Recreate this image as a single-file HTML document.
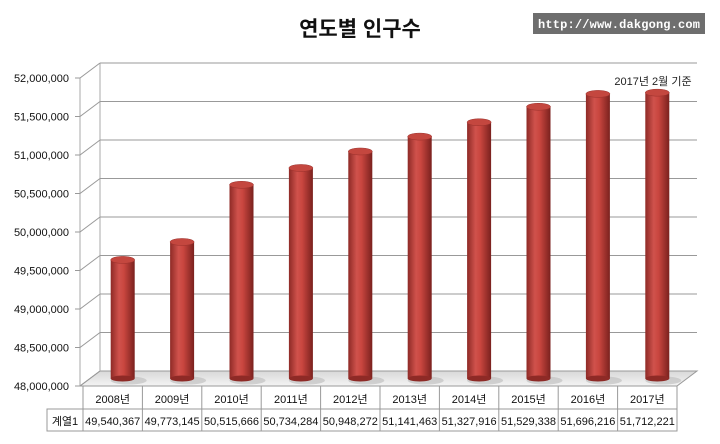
<!DOCTYPE html>
<html><head><meta charset="utf-8"><style>
body{margin:0;background:#fff;}
svg text{font-family:"Liberation Sans","Noto Sans CJK KR",sans-serif;}
svg text.mono{font-family:"Liberation Mono",monospace;}
</style></head><body>
<svg id="chart" width="720" height="439" viewBox="0 0 720 439" xmlns="http://www.w3.org/2000/svg">
<defs>
<linearGradient id="cyl" x1="0" x2="1" y1="0" y2="0">
<stop offset="0" stop-color="#8e2a26"/><stop offset="0.35" stop-color="#d0524c"/><stop offset="0.55" stop-color="#c9463f"/><stop offset="1" stop-color="#7a211e"/>
</linearGradient>
<linearGradient id="floorg" x1="0" x2="0" y1="0" y2="1"><stop offset="0" stop-color="#d8d8d8"/><stop offset="1" stop-color="#f4f4f4"/></linearGradient>
</defs>
<text x="360" y="36" text-anchor="middle" font-size="21" font-weight="bold" fill="#111">연도별 인구수</text>
<rect x="533" y="13" width="172" height="21" fill="#6e6e6e"/>
<text class="mono" x="619" y="28" text-anchor="middle" font-size="12" font-weight="bold" fill="#fff" textLength="162">http://www.dakgong.com</text>
<text x="653" y="85" text-anchor="middle" font-size="11" fill="#222">2017년 2월 기준</text>
<g id="axes"></g>
<g id="bars"></g>
<g id="table"></g>
</svg>
<script>
const years=["2008년","2009년","2010년","2011년","2012년","2013년","2014년","2015년","2016년","2017년"];
const values=[49540367,49773145,50515666,50734284,50948272,51141463,51327916,51529338,51696216,51712221];
const valueLabels=["49,540,367","49,773,145","50,515,666","50,734,284","50,948,272","51,141,463","51,327,916","51,529,338","51,696,216","51,712,221"];
const ticks=[48000000,48500000,49000000,49500000,50000000,50500000,51000000,51500000,52000000];
const tickLabels=["48,000,000","48,500,000","49,000,000","49,500,000","50,000,000","50,500,000","51,000,000","51,500,000","52,000,000"];
const NS="http://www.w3.org/2000/svg";
function mk(t,a,p){const e=document.createElementNS(NS,t);for(const k in a)e.setAttribute(k,a[k]);p.appendChild(e);return e;}
const y0=386,ymin=48000000,ymax=52000000,pxPer=308;
function y(v){return y0-(v-ymin)/(ymax-ymin)*pxPer;}
const dx=20,dy=-15,axX=80,right=677,tabL=83,colW=(right-tabL)/10;
const ax=document.getElementById('axes');
let fl=mk('polygon',{points:`${axX},${y0} ${right},${y0} ${right+dx},${y0+dy} ${axX+dx},${y0+dy}`,fill:'url(#floorg)',stroke:'#999'},ax);


mk('line',{x1:axX,y1:y0,x2:axX,y2:y(ymax),stroke:'#aaa'},ax);
mk('line',{x1:axX+dx,y1:y0+dy,x2:axX+dx,y2:y(ymax)+dy,stroke:'#aaa'},ax);
ticks.forEach((t,i)=>{
 const yy=y(t);
 if(i>0){let g=mk('line',{x1:axX+dx,y1:yy+dy,x2:right+dx,y2:yy+dy,stroke:'#999'},ax);
 
 }
 mk('polyline',{points:`${axX-5},${yy} ${axX},${yy} ${axX+dx},${yy+dy}`,fill:'none',stroke:'#999'},ax);
 let tx=mk('text',{x:axX-11,y:yy+4,'text-anchor':'end','font-size':11,fill:'#111'},ax);
 tx.textContent=tickLabels[i];
 
 
});
const bg=document.getElementById('bars');
const bw=24,off=10;
values.forEach((v,i)=>{
 const cx=tabL+colW*(i+0.5)+off;
 const top=y(v)+dy/2, bot=y0+dy/2;
 const g=mk('g',{},bg);
 
 
 mk('ellipse',{cx:cx+6,cy:bot+2,rx:bw/2+6,ry:4,fill:'#bbb',opacity:0.6},g);
 mk('rect',{x:cx-bw/2,y:top,width:bw,height:bot-top,fill:'url(#cyl)'},g);
 mk('ellipse',{cx:cx,cy:bot,rx:bw/2,ry:3,fill:'#8e2a26'},g);
 mk('ellipse',{cx:cx,cy:top,rx:bw/2,ry:3.5,fill:'#c4473f',stroke:'#9a302b','stroke-width':0.5},g);
});
const tb=document.getElementById('table');
const r1=386,r2=409,r3=431;
mk('rect',{x:tabL,y:r1,width:right-tabL,height:r2-r1,fill:'#fff',stroke:'#999'},tb);
mk('rect',{x:47,y:r2,width:right-47,height:r3-r2,fill:'#fff',stroke:'#999'},tb);
mk('line',{x1:tabL,y1:r2,x2:tabL,y2:r3,stroke:'#999'},tb);
let hl=mk('text',{x:65,y:r3-6,'text-anchor':'middle','font-size':11,fill:'#111'},tb);
hl.textContent='계열1';


years.forEach((yr,i)=>{
 const x=tabL+colW*i;
 if(i>0)mk('line',{x1:x,y1:r1,x2:x,y2:r3,stroke:'#999'},tb);
 let a=mk('text',{x:x+colW/2,y:r2-6,'text-anchor':'middle','font-size':11,fill:'#111'},tb);
 a.textContent=yr;
 
 
 let b=mk('text',{x:x+colW/2,y:r3-6,'text-anchor':'middle','font-size':11,fill:'#111'},tb);
 b.textContent=valueLabels[i];
 
 
});
</script>
</body></html>
